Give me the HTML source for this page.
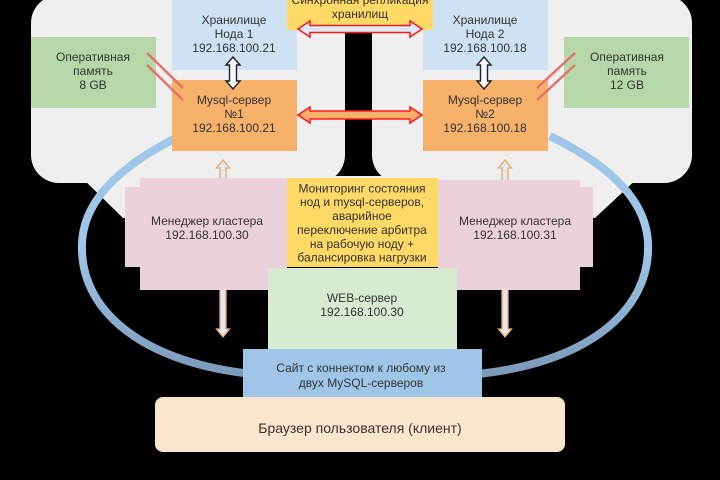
<!DOCTYPE html>
<html><head><meta charset="utf-8"><style>
html,body{margin:0;padding:0;background:#000;}
svg{display:block;}
text{font-family:"Liberation Sans","DejaVu Sans",sans-serif;font-size:12px;fill:#333;text-anchor:middle;}
</style></head><body>
<svg width="720" height="480" viewBox="0 0 720 480" xmlns="http://www.w3.org/2000/svg">
<defs>
<linearGradient id="arcg" gradientUnits="userSpaceOnUse" x1="0" y1="250" x2="0" y2="375">
<stop offset="0" stop-color="#9fc5e8"/><stop offset="1" stop-color="#7c9abb"/>
</linearGradient>
</defs>
<rect x="0" y="0" width="720" height="480" fill="#000"/>
<!-- gray panels -->
<rect x="31" y="-5" width="314" height="188" rx="28" fill="#efefef"/>
<rect x="372" y="-5" width="320" height="188" rx="28" fill="#efefef"/>
<rect x="330" y="0" width="60" height="33" fill="#efefef"/>
<polygon points="80,176 640,176 595,218 123,218" fill="#efefef"/>
<!-- big arc -->
<path d="M 180,136 C 115,168 80,205 82,250 C 83,310 140,360 244,373 C 300,382 430,382 486,373 C 590,360 647,310 648,250 C 650,205 615,168 550,136" fill="none" stroke="url(#arcg)" stroke-width="8"/>
<!-- orange vertical double arrows (behind pink) -->
<polygon points="223,160 229.5,168 226,168 226,329 229.5,329 223,337 216.5,329 220,329 220,168 216.5,168" fill="#dfe9f3" stroke="#f0a860" stroke-width="1.3"/>
<polygon points="505,160 511.5,168 508,168 508,329 511.5,329 505,337 498.5,329 502,329 502,168 498.5,168" fill="#dfe9f3" stroke="#f0a860" stroke-width="1.3"/>
<!-- top boxes -->
<rect x="172" y="-2" width="125" height="72" fill="#cfe2f3"/>
<rect x="423" y="-2" width="125" height="72" fill="#cfe2f3"/>
<rect x="172" y="80" width="125" height="71" fill="#f6b26b"/>
<rect x="423" y="80" width="125" height="71" fill="#f6b26b"/>
<rect x="31" y="37" width="125" height="71" fill="#b6d7a8"/>
<rect x="564" y="37" width="125" height="71" fill="#b6d7a8"/>
<rect x="287" y="-2" width="146" height="32" fill="#ffd966"/>
<!-- pink boxes -->
<rect x="140" y="178" width="147" height="112" fill="#ead1dc"/>
<rect x="125" y="187" width="20" height="80" fill="#ead1dc"/>
<rect x="438" y="180" width="142" height="110" fill="#ead1dc"/>
<rect x="575" y="187" width="18" height="80" fill="#ead1dc"/>
<!-- monitoring -->
<rect x="287" y="178" width="151" height="89" fill="#ffd966"/>
<!-- WEB -->
<rect x="268" y="268" width="189" height="81" fill="#d9ead3"/>
<!-- site -->
<rect x="243" y="349" width="239" height="48" fill="#9fc5e8"/>
<!-- browser -->
<rect x="155" y="397" width="410" height="55" rx="8" fill="#fce5cd"/>
<!-- storage<->mysql arrows -->
<polygon points="233,57 240,65 236.5,65 236.5,81 240,81 233,89 226,81 229.5,81 229.5,65 226,65" fill="#f4f7fb" stroke="#222" stroke-width="1.4"/>
<polygon points="484,57 491,65 487.5,65 487.5,81 491,81 484,89 477,81 480.5,81 480.5,65 477,65" fill="#f4f7fb" stroke="#222" stroke-width="1.4"/>
<!-- red horizontal arrows -->
<polygon points="298,29 310,21 310,25.5 410,25.5 410,21 422,29 410,37 410,32.5 310,32.5 310,37" fill="#dbe8f5" stroke="#ff1a1a" stroke-width="1.6"/>
<polygon points="298,115 310,107 310,111 410,111 410,107 422,115 410,123 410,119 310,119 310,123" fill="#f6b26b" stroke="#ff1a1a" stroke-width="1.6"/>
<!-- red diagonal lines -->
<g stroke="#e87070" stroke-width="2.5">
<line x1="147" y1="53" x2="183" y2="88"/>
<line x1="147" y1="65" x2="183" y2="100"/>
<line x1="537" y1="88" x2="575" y2="53"/>
<line x1="537" y1="100" x2="575" y2="65"/>
</g>
<!-- texts -->
<text x="360" y="4">Синхронная репликация</text>
<text x="360" y="18">хранилищ</text>
<text x="234" y="24">Хранилище</text>
<text x="234" y="38">Нода 1</text>
<text x="234" y="52">192.168.100.21</text>
<text x="485" y="24">Хранилище</text>
<text x="485" y="38">Нода 2</text>
<text x="485" y="52">192.168.100.18</text>
<text x="234" y="104">Mysql-сервер</text>
<text x="234" y="118">№1</text>
<text x="234" y="132">192.168.100.21</text>
<text x="485" y="104">Mysql-сервер</text>
<text x="485" y="118">№2</text>
<text x="485" y="132">192.168.100.18</text>
<text x="93" y="61">Оперативная</text>
<text x="93" y="75">память</text>
<text x="93" y="89">8 GB</text>
<text x="627" y="61">Оперативная</text>
<text x="627" y="75">память</text>
<text x="627" y="89">12 GB</text>
<text x="362" y="192.5">Мониторинг состояния</text>
<text x="362" y="206">нод и mysql-серверов,</text>
<text x="362" y="220">аварийное</text>
<text x="362" y="234">переключение арбитра</text>
<text x="362" y="248">на рабочую ноду +</text>
<text x="362" y="261.5">балансировка нагрузки</text>
<text x="207" y="225">Менеджер кластера</text>
<text x="207" y="239">192.168.100.30</text>
<text x="515" y="225">Менеджер кластера</text>
<text x="515" y="239">192.168.100.31</text>
<text x="362" y="302">WEB-сервер</text>
<text x="362" y="316">192.168.100.30</text>
<text x="361" y="372">Сайт с коннектом к любому из</text>
<text x="361" y="387">двух MySQL-серверов</text>
<text x="360" y="433" style="font-size:14px">Браузер пользователя (клиент)</text>
</svg>
</body></html>
